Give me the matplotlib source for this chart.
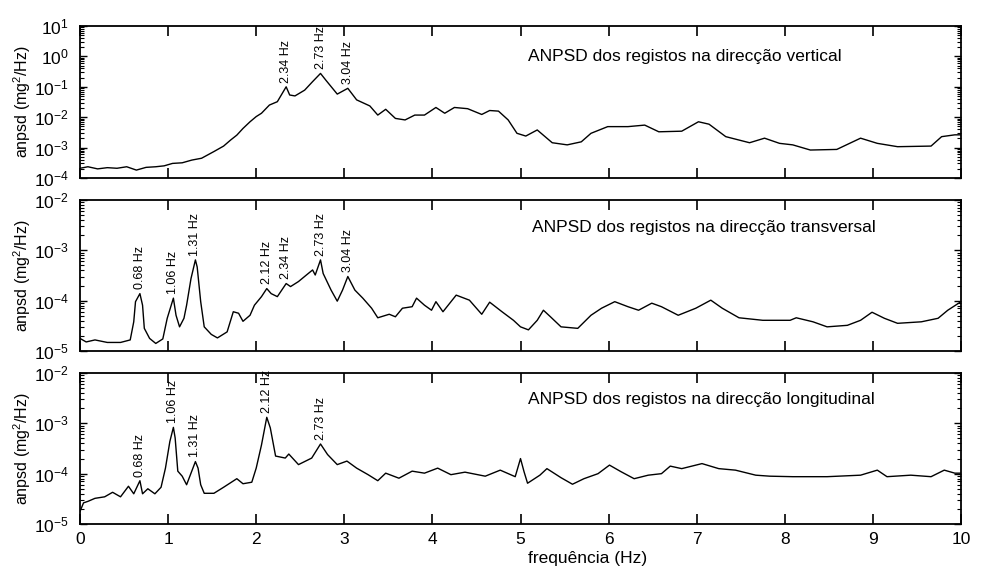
import numpy as np
import matplotlib
matplotlib.use("Agg")
import matplotlib.pyplot as plt
from matplotlib.ticker import FixedLocator, LogLocator, NullFormatter, LogFormatterSciNotation

plt.rcParams['font.family'] = ['Liberation Sans', 'DejaVu Sans']
plt.rcParams['mathtext.fontset'] = 'custom'
plt.rcParams['mathtext.rm'] = 'Liberation Sans'
plt.rcParams['mathtext.it'] = 'Liberation Sans:italic'
plt.rcParams['mathtext.bf'] = 'Liberation Sans:bold'

# ---------------- data (frequency in Hz, log10 of ANPSD) ----------------
x_ticks = [0, 1, 2, 3, 4, 5, 6, 7, 8, 9, 10]

vert_freq = [0.00, 0.09, 0.20, 0.31, 0.42, 0.53, 0.64, 0.75, 0.86, 0.955, 1.05, 1.16, 1.27, 1.38,
             1.45, 1.52, 1.63, 1.71, 1.78, 1.85, 1.93, 2.00, 2.06, 2.15, 2.24, 2.34, 2.38, 2.44,
             2.55, 2.64, 2.73, 2.79, 2.92, 3.04, 3.14, 3.29, 3.38, 3.47, 3.58, 3.69, 3.80, 3.91,
             4.04, 4.14, 4.25, 4.40, 4.56, 4.65, 4.75, 4.86, 4.96, 5.06, 5.19, 5.36, 5.53, 5.69,
             5.80, 5.99, 6.22, 6.41, 6.57, 6.83, 7.02, 7.14, 7.33, 7.60, 7.77, 7.94, 8.09, 8.29,
             8.59, 8.86, 9.05, 9.28, 9.66, 9.78, 9.93, 10.0]
vert_log = [-3.68, -3.63, -3.70, -3.66, -3.68, -3.63, -3.74, -3.65, -3.63, -3.60, -3.52, -3.50,
            -3.41, -3.35, -3.24, -3.13, -2.95, -2.75, -2.59, -2.37, -2.15, -1.98, -1.87, -1.60,
            -1.49, -1.00, -1.27, -1.30, -1.11, -0.83, -0.56, -0.78, -1.24, -1.05, -1.43, -1.63,
            -1.93, -1.74, -2.04, -2.09, -1.93, -1.93, -1.68, -1.87, -1.68, -1.72, -1.91, -1.78,
            -1.80, -2.09, -2.53, -2.62, -2.42, -2.84, -2.91, -2.81, -2.53, -2.31, -2.31, -2.26,
            -2.48, -2.46, -2.15, -2.23, -2.64, -2.84, -2.69, -2.86, -2.91, -3.08, -3.06, -2.69,
            -2.86, -2.97, -2.95, -2.64, -2.58, -2.58]

trans_freq = [0.00, 0.07, 0.17, 0.31, 0.46, 0.57, 0.61, 0.63, 0.68, 0.71, 0.73, 0.79, 0.86, 0.94,
              0.99, 1.06, 1.09, 1.13, 1.18, 1.21, 1.26, 1.31, 1.33, 1.37, 1.41, 1.49, 1.56, 1.67,
              1.74, 1.80, 1.85, 1.93, 1.98, 2.06, 2.12, 2.17, 2.24, 2.34, 2.39, 2.48, 2.57, 2.64,
              2.67, 2.73, 2.76, 2.85, 2.92, 2.98, 3.04, 3.12, 3.21, 3.31, 3.38, 3.51, 3.58, 3.66,
              3.77, 3.82, 3.91, 3.99, 4.04, 4.12, 4.27, 4.42, 4.56, 4.65, 4.79, 4.92, 5.00, 5.09,
              5.19, 5.26, 5.34, 5.46, 5.65, 5.80, 5.92, 6.07, 6.22, 6.34, 6.49, 6.60, 6.79, 6.99,
              7.16, 7.29, 7.48, 7.75, 8.06, 8.13, 8.32, 8.48, 8.71, 8.86, 8.99, 9.13, 9.28, 9.55,
              9.74, 9.85, 10.0]
trans_log = [-4.75, -4.82, -4.78, -4.83, -4.83, -4.78, -4.42, -4.02, -3.86, -4.09, -4.55, -4.75,
             -4.85, -4.76, -4.35, -3.95, -4.29, -4.52, -4.35, -4.09, -3.56, -3.19, -3.33, -4.02,
             -4.52, -4.67, -4.74, -4.62, -4.22, -4.25, -4.41, -4.29, -4.09, -3.92, -3.76, -3.86,
             -3.92, -3.66, -3.72, -3.62, -3.49, -3.39, -3.49, -3.19, -3.46, -3.79, -4.01, -3.79,
             -3.52, -3.79, -3.95, -4.15, -4.34, -4.27, -4.32, -4.15, -4.12, -3.95, -4.09, -4.19,
             -4.02, -4.22, -3.89, -3.99, -4.27, -4.03, -4.22, -4.39, -4.52, -4.58, -4.39, -4.19,
             -4.32, -4.52, -4.55, -4.29, -4.15, -4.02, -4.12, -4.19, -4.05, -4.12, -4.29, -4.15,
             -3.99, -4.15, -4.34, -4.39, -4.39, -4.34, -4.42, -4.52, -4.49, -4.39, -4.23, -4.35,
             -4.45, -4.42, -4.35, -4.19, -4.02]

long_freq = [0.00, 0.04, 0.09, 0.17, 0.28, 0.37, 0.46, 0.55, 0.61, 0.68, 0.71, 0.77, 0.85, 0.92,
             0.97, 1.02, 1.06, 1.08, 1.11, 1.16, 1.21, 1.31, 1.34, 1.37, 1.41, 1.52, 1.63, 1.78,
             1.85, 1.95, 2.00, 2.06, 2.12, 2.16, 2.22, 2.33, 2.37, 2.48, 2.63, 2.73, 2.81, 2.92,
             3.03, 3.14, 3.27, 3.38, 3.47, 3.62, 3.77, 3.91, 4.06, 4.21, 4.37, 4.60, 4.77, 4.94,
             5.00, 5.04, 5.08, 5.22, 5.30, 5.46, 5.59, 5.72, 5.88, 6.01, 6.14, 6.29, 6.45, 6.60,
             6.70, 6.83, 7.06, 7.25, 7.44, 7.67, 7.83, 8.09, 8.48, 8.86, 9.05, 9.16, 9.43, 9.66,
             9.81, 9.93, 10.0]
long_log = [-4.75, -4.58, -4.55, -4.49, -4.46, -4.37, -4.46, -4.25, -4.40, -4.14, -4.40, -4.30,
            -4.40, -4.27, -3.89, -3.36, -3.08, -3.29, -3.95, -4.05, -4.22, -3.76, -3.89, -4.22,
            -4.39, -4.39, -4.27, -4.10, -4.20, -4.17, -3.89, -3.43, -2.88, -3.09, -3.65, -3.69,
            -3.61, -3.82, -3.69, -3.41, -3.62, -3.82, -3.75, -3.89, -4.02, -4.14, -3.99, -4.09,
            -3.95, -3.99, -3.89, -4.02, -3.97, -4.05, -3.93, -4.06, -3.70, -3.96, -4.19, -4.03,
            -3.90, -4.08, -4.21, -4.10, -4.00, -3.83, -3.96, -4.10, -4.03, -4.00, -3.85, -3.90,
            -3.80, -3.90, -3.93, -4.03, -4.05, -4.06, -4.06, -4.03, -3.93, -4.06, -4.03, -4.06,
            -3.93, -3.99, -3.99]

vert_peaks = [2.34, 2.73, 3.04]
trans_peaks = [0.68, 1.06, 1.31, 2.12, 2.34, 2.73, 3.04]
long_peaks = [0.68, 1.06, 1.31, 2.12, 2.73]

titles = ["ANPSD dos registos na direcção vertical",
          "ANPSD dos registos na direcção transversal",
          "ANPSD dos registos na direcção longitudinal"]
ylims = [(1e-4, 1e1), (1e-5, 1e-2), (1e-5, 1e-2)]

# ---------------- layout ----------------
W, H = 995, 570
fig = plt.figure(figsize=(W / 100, H / 100), dpi=100)
ax_left, ax_right = 80, 961
panels_px = [(26, 178), (200, 351), (373, 524)]
title_pos = [(0.5085, 0.80), (0.5127, 0.82), (0.5085, 0.825)]

data = [(vert_freq, vert_log, vert_peaks), (trans_freq, trans_log, trans_peaks),
        (long_freq, long_log, long_peaks)]

for i, ((top, bot), (fr, lg, peaks)) in enumerate(zip(panels_px, data)):
    ax = fig.add_axes([ax_left / W, 1 - bot / H, (ax_right - ax_left) / W, (bot - top) / H])
    fr = np.asarray(fr)
    val = 10 ** np.asarray(lg)
    ax.plot(fr, val, color='black', lw=1.0)
    ax.set_yscale('log')
    ax.set_xlim(0, 10)
    ax.set_ylim(*ylims[i])
    lo, hi = int(np.log10(ylims[i][0])), int(np.log10(ylims[i][1]))
    ax.yaxis.set_major_locator(FixedLocator([10.0 ** k for k in range(lo, hi + 1)]))
    ax.yaxis.set_major_formatter(LogFormatterSciNotation())
    ax.yaxis.set_minor_locator(LogLocator(base=10, subs=np.arange(2, 10), numticks=20))
    ax.yaxis.set_minor_formatter(NullFormatter())
    ax.xaxis.set_major_locator(FixedLocator(x_ticks))
    ax.tick_params(which='both', direction='in', top=True, right=True, colors='black',
                   labelsize=12.5)
    ax.tick_params(axis='x', which='major', length=7, width=1.2, pad=6)
    ax.tick_params(axis='y', which='major', length=5, width=1.0, pad=8)
    ax.tick_params(axis='y', which='minor', length=3, width=0.8)
    for s in ax.spines.values():
        s.set_linewidth(1.3)
    if i < 2:
        ax.set_xticklabels([])
    else:
        ax.set_xlabel("frequência (Hz)", fontsize=12.5)
        ax.xaxis.set_label_coords(0.5766, -0.18)
    ax.set_ylabel("anpsd (mg$^2$/Hz)", fontsize=11.5)
    ax.yaxis.set_label_coords(-0.053, 0.5)
    ax.text(title_pos[i][0], title_pos[i][1], titles[i], transform=ax.transAxes,
            ha='left', va='center', fontsize=12.5)
    for p in peaks:
        mask = np.abs(fr - p) <= 0.04
        pv = val[mask].max()
        ax.annotate(f"{p:.2f} Hz", xy=(p, pv), xytext=(0, 3), textcoords='offset points',
                    rotation=90, ha='center', va='bottom', fontsize=9, annotation_clip=False)

fig.savefig("out.png", dpi=100)
